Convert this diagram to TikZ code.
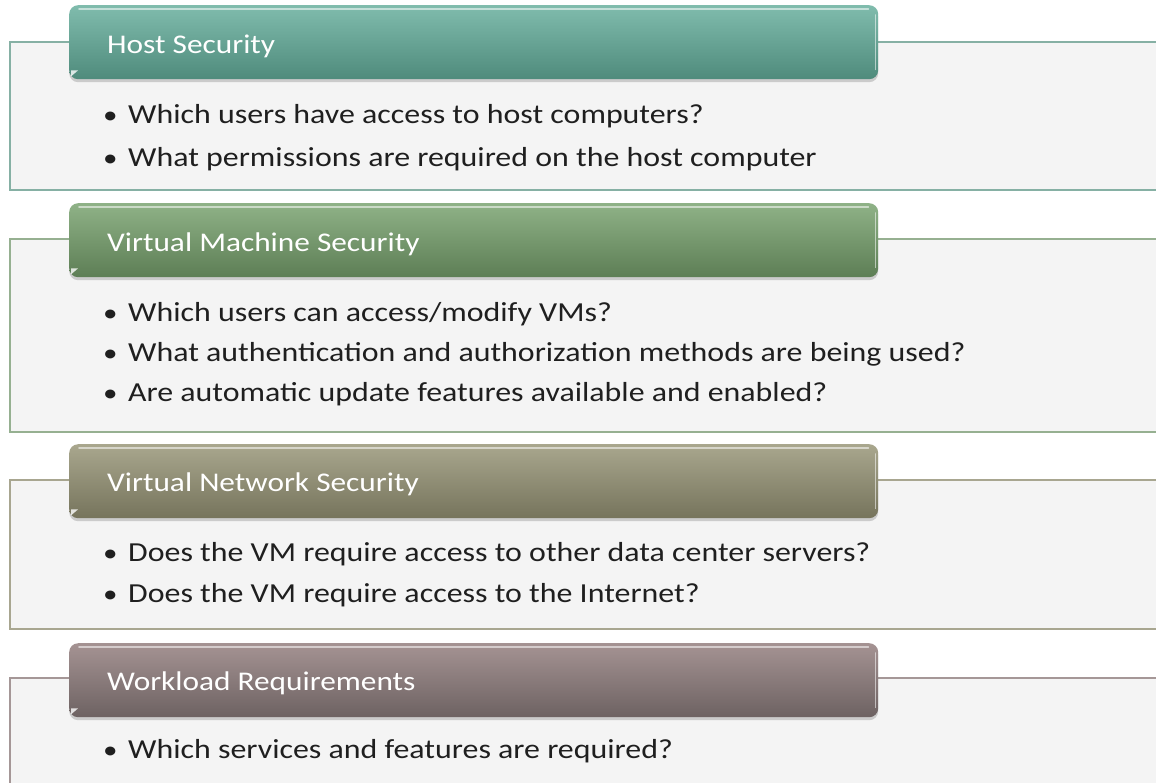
\documentclass[tikz,border=0pt]{standalone}
\usepackage{fontspec}
\setmainfont{Carlito}[FakeStretch=1.16]
\usetikzlibrary{shadows}

\definecolor{tealT}{HTML}{80BCAD}\definecolor{tealB}{HTML}{4F8B7C}\definecolor{tealL}{HTML}{86B0A4}
\definecolor{greenT}{HTML}{8FB287}\definecolor{greenB}{HTML}{5D7E55}\definecolor{greenL}{HTML}{96B091}
\definecolor{oliveT}{HTML}{A9A78E}\definecolor{oliveB}{HTML}{76745C}\definecolor{oliveL}{HTML}{A8A690}
\definecolor{mauveT}{HTML}{A59393}\definecolor{mauveB}{HTML}{6D6262}\definecolor{mauveL}{HTML}{A59797}
\definecolor{panelfill}{HTML}{F4F4F4}

\tikzset{
  panel/.style={draw=#1, line width=2pt, fill=panelfill},
  header/.style n args={2}{rectangle, rounded corners=9pt, top color=#1, bottom color=#2,
    draw=none, minimum width=809pt, minimum height=74pt, anchor=north west, inner sep=0pt,
    drop shadow={shadow xshift=0pt, shadow yshift=-3pt, opacity=0.35}},
  gloss/.style={draw=white, line width=1.6pt, opacity=0.55, line cap=round},
  fold/.style={fill=white, opacity=0.8},
  headtext/.style={anchor=base west, text=white, font=\fontsize{27}{31}\selectfont, inner sep=0pt},
  bullettext/.style={anchor=base west, text=black!88, font=\fontsize{27.5}{32}\selectfont, inner sep=0pt},
  bulletdot/.style={anchor=base west, text=black!88, font=\fontsize{25}{32}\selectfont, inner sep=0pt},
}

% glossy highlights and the folded corner of a header bar
\newcommand{\headergloss}[1]{%
  \draw[gloss] ([xshift=10pt,yshift=-4pt]#1.north west) -- ([xshift=-10pt,yshift=-4pt]#1.north east);
  \draw[gloss] ([xshift=-3pt,yshift=-10pt]#1.north east) -- ([xshift=-3pt,yshift=10pt]#1.south east);
  \fill[fold] ([xshift=2pt,yshift=9pt]#1.south west) -- ([xshift=9pt,yshift=9pt]#1.south west)
    -- ([xshift=2pt,yshift=3pt]#1.south west) -- cycle;
}

\begin{document}
\begin{tikzpicture}[x=1pt, y=-1pt]
\useasboundingbox (0,0) rectangle (1156,782);
\begin{scope}
\clip (0,0) rectangle (1156,782);
\fill[white] (0,0) rectangle (1156,782);

% panel 1: host security
\draw[panel=tealL] (10,42) rectangle (1170,190);
\node[header={tealT}{tealB}] (h1) at (69,5) {};
\headergloss{h1}
\node[headtext] (t1) at (107,53) {Host Security};
\node[bulletdot] (b1a) at (103,123) {•};
\node[bullettext] (l1a) at (128,123) {Which users have access to host computers?};
\node[bulletdot] (b1b) at (103,166) {•};
\node[bullettext] (l1b) at (128,166) {What permissions are required on the host computer};

% panel 2: virtual machine security
\draw[panel=greenL] (10,239) rectangle (1170,432);
\node[header={greenT}{greenB}] (h2) at (69,203) {};
\headergloss{h2}
\node[headtext] (t2) at (107,251) {Virtual Machine Security};
\node[bulletdot] (b2a) at (103,321) {•};
\node[bullettext] (l2a) at (128,321) {Which users can access/modify VMs?};
\node[bulletdot] (b2b) at (103,361) {•};
\node[bullettext] (l2b) at (128,361) {What authentication and authorization methods are being used?};
\node[bulletdot] (b2c) at (103,401) {•};
\node[bullettext] (l2c) at (128,401) {Are automatic update features available and enabled?};

% panel 3: virtual network security
\draw[panel=oliveL] (10,480) rectangle (1170,629);
\node[header={oliveT}{oliveB}] (h3) at (69,444) {};
\headergloss{h3}
\node[headtext] (t3) at (107,491) {Virtual Network Security};
\node[bulletdot] (b3a) at (103,561) {•};
\node[bullettext] (l3a) at (128,561) {Does the VM require access to other data center servers?};
\node[bulletdot] (b3b) at (103,602) {•};
\node[bullettext] (l3b) at (128,602) {Does the VM require access to the Internet?};

% panel 4: workload requirements
\draw[panel=mauveL] (10,678) rectangle (1170,820);
\node[header={mauveT}{mauveB}] (h4) at (69,643) {};
\headergloss{h4}
\node[headtext] (t4) at (107,690) {Workload Requirements};
\node[bulletdot] (b4a) at (103,758) {•};
\node[bullettext] (l4a) at (128,758) {Which services and features are required?};
\end{scope}
\end{tikzpicture}
\end{document}
